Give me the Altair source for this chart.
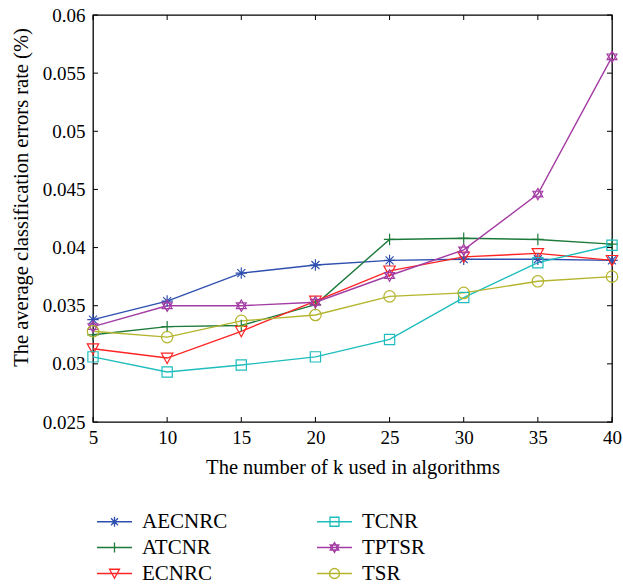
import altair as alt
import pandas as pd

k = [5, 10, 15, 20, 25, 30, 35, 40]
series_names = ["AECNRC", "ATCNR", "ECNRC", "TCNR", "TPTSR", "TSR"]
aecnrc = [0.0338, 0.0354, 0.0378, 0.0385, 0.0389, 0.0390, 0.0390, 0.0389]
atcnr = [0.0325, 0.0332, 0.0333, 0.0351, 0.0407, 0.0408, 0.0407, 0.0403]
ecnrc = [0.0313, 0.0305, 0.0328, 0.0354, 0.0380, 0.0392, 0.0395, 0.0389]
tcnr = [0.0306, 0.0293, 0.0299, 0.0306, 0.0321, 0.0357, 0.0387, 0.0402]
tptsr = [0.0332, 0.0350, 0.0350, 0.0353, 0.0376, 0.0398, 0.0446, 0.0564]
tsr = [0.0328, 0.0323, 0.0337, 0.0342, 0.0358, 0.0361, 0.0371, 0.0375]
x_ticks = [5, 10, 15, 20, 25, 30, 35, 40]
y_ticks = [0.025, 0.03, 0.035, 0.04, 0.045, 0.05, 0.055, 0.06]

values = [aecnrc, atcnr, ecnrc, tcnr, tptsr, tsr]
rows = []
for name, vals in zip(series_names, values):
    for kk, v in zip(k, vals):
        rows.append({"k": kk, "rate": v, "series": name})
df = pd.DataFrame(rows)

colors = {"AECNRC": "#2F4FAF", "ATCNR": "#1C7A3A", "ECNRC": "#FF2424",
          "TCNR": "#1EBDBD", "TPTSR": "#A33CA3", "TSR": "#B4B42C"}
asterisk = "M-1,0L1,0M0,-1L0,1M-0.7,-0.7L0.7,0.7M-0.7,0.7L0.7,-0.7"
plus = "M-1,0L1,0M0,-1L0,1"
tri = "M-1,-0.85L1,-0.85L0,0.95Z"
square = "M-0.9,-0.9L0.9,-0.9L0.9,0.9L-0.9,0.9Z"
hexa = "M0,-1L0.866,0.5L-0.866,0.5ZM0,1L0.866,-0.5L-0.866,-0.5Z"
circle = "M1,0A1,1,0,1,1,-1,0A1,1,0,1,1,1,0Z"
shapes = {"AECNRC": asterisk, "ATCNR": plus, "ECNRC": tri,
          "TCNR": square, "TPTSR": hexa, "TSR": circle}

FONT = "Liberation Serif"
W, H = 519, 407

xs = alt.Scale(domain=[5, 40], nice=False)
ys = alt.Scale(domain=[0.025, 0.06], nice=False)

x_axis = alt.Axis(
    title="The number of k used in algorithms", values=x_ticks, format="d",
    ticks=False, domain=False, grid=False, labelFlush=False, labelPadding=6,
    titlePadding=10)
y_axis = alt.Axis(
    title="The average classification errors rate (%)", values=y_ticks,
    ticks=False, domain=False, grid=False, labelFlush=False, labelPadding=8,
    titlePadding=11, titleY=182, labelExpr="format(datum.value, '.3~f')")

col_scale = alt.Scale(domain=series_names, range=[colors[s] for s in series_names])
shp_scale = alt.Scale(domain=series_names, range=[shapes[s] for s in series_names])

X = alt.X("k:Q", scale=xs, axis=x_axis)
Y = alt.Y("rate:Q", scale=ys, axis=y_axis)

base = alt.Chart(df)
lines = base.mark_line(strokeWidth=1.4).encode(
    x=X, y=Y,
    color=alt.Color("series:N", scale=col_scale, legend=None),
    detail="series:N",
)
points = base.mark_point(filled=False, size=130, strokeWidth=1.2, opacity=1).encode(
    x=X, y=Y,
    color=alt.Color("series:N", scale=col_scale, legend=None),
    shape=alt.Shape("series:N", scale=shp_scale, legend=None),
)

leg_shapes = ["M-3.5,0L3.5,0" + shapes[s] for s in series_names]
legend_layer = base.transform_filter("false").mark_point(
    filled=False, size=100, strokeWidth=1.3, opacity=1).encode(
    x=X, y=Y,
    color=alt.Color("series:N", scale=col_scale,
                    legend=alt.Legend(title=None, orient="none", legendX=-1, legendY=496,
                                      columns=2, columnPadding=84, rowPadding=4,
                                      labelFont=FONT, labelFontSize=21, labelColor="black",
                                      symbolSize=100, symbolStrokeWidth=1.3, labelOffset=17,
                                      symbolOffset=12, symbolOpacity=1)),
    shape=alt.Shape("series:N", scale=alt.Scale(domain=series_names, range=leg_shapes)),
)

xt = pd.DataFrame({"k": x_ticks})
yt = pd.DataFrame({"rate": y_ticks})
tl = 5
tick_bottom = alt.Chart(xt).mark_rule(color="black", strokeWidth=1).encode(
    x=X, y=alt.value(H - tl), y2=alt.value(H))
tick_top = alt.Chart(xt).mark_rule(color="black", strokeWidth=1).encode(
    x=X, y=alt.value(0), y2=alt.value(tl))
tick_left = alt.Chart(yt).mark_rule(color="black", strokeWidth=1).encode(
    y=Y, x=alt.value(0), x2=alt.value(tl))
tick_right = alt.Chart(yt).mark_rule(color="black", strokeWidth=1).encode(
    y=Y, x=alt.value(W - tl), x2=alt.value(W))

chart = alt.layer(lines, points, legend_layer, tick_bottom, tick_top, tick_left, tick_right).resolve_scale(
    color="independent", shape="independent"
).properties(
    width=W, height=H,
    autosize=alt.AutoSizeParams(type="none"),
    padding={"left": 93, "top": 15, "right": 11, "bottom": 164},
    background="white",
).configure_view(
    stroke="black", strokeWidth=1.3
).configure_axis(
    labelFont=FONT, labelFontSize=19, labelColor="black",
    titleFont=FONT, titleFontSize=20.5, titleFontWeight="normal", titleColor="black",
)

chart.save("out.html", embed_options={"renderer": "svg", "actions": False})
